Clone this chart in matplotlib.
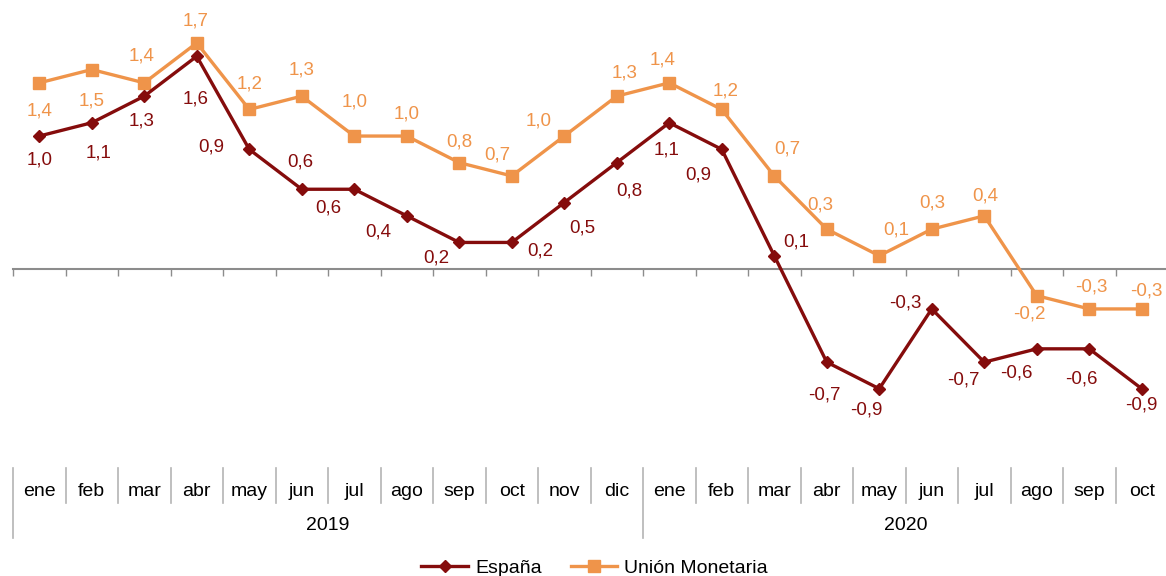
import matplotlib.pyplot as plt
from matplotlib.lines import Line2D
from matplotlib.transforms import blended_transform_factory

plt.rcParams['font.family'] = ['Liberation Sans', 'DejaVu Sans']

# Datos
meses = ['ene', 'feb', 'mar', 'abr', 'may', 'jun', 'jul', 'ago', 'sep', 'oct', 'nov', 'dic',
         'ene', 'feb', 'mar', 'abr', 'may', 'jun', 'jul', 'ago', 'sep', 'oct']
anios = ['2019', '2020']
espana = [1.0, 1.1, 1.3, 1.6, 0.9, 0.6, 0.6, 0.4, 0.2, 0.2, 0.5, 0.8,
          1.1, 0.9, 0.1, -0.7, -0.9, -0.3, -0.7, -0.6, -0.6, -0.9]
union = [1.4, 1.5, 1.4, 1.7, 1.2, 1.3, 1.0, 1.0, 0.8, 0.7, 1.0, 1.3,
         1.4, 1.2, 0.7, 0.3, 0.1, 0.3, 0.4, -0.2, -0.3, -0.3]

# desplazamientos de las etiquetas (pixeles)
off_es = [(0, -24), (7, -30), (-3, -25), (-1, -43), (-38, 2), (-1, 27), (-26, -19),
          (-29, -16), (-23, -16), (29, -9), (18, -25), (13, -28), (-3, -27), (-24, -26),
          (22, 14), (-2, -33), (-13, -21), (-26, 6), (-21, -18), (-20, -24), (-8, -30), (0, -16)]
off_um = [(0, -28), (0, -31), (-3, 27), (-1, 22), (0, 25), (0, 26), (0, 34), (0, 22),
          (0, 21), (-14, 21), (-26, 15), (8, 23), (-7, 23), (4, 18), (13, 27), (-6, 24),
          (17, 26), (0, 26), (1, 20), (-7, -18), (2, 22), (5, 18)]

c_es = '#850C0C'
c_um = '#EF944A'
gris = '#8C8C8C'

fig = plt.figure(figsize=(11.66, 5.76), dpi=100)
ax = fig.add_axes([13 / 1166, 108 / 576, 1155 / 1166, 468 / 576])
x = range(len(meses))

ax.plot(x, union, color=c_um, lw=2.4, marker='s', ms=9, label='Unión Monetaria', zorder=3)
ax.plot(x, espana, color=c_es, lw=2.4, marker='D', ms=6.5, label='España', zorder=4)

for i, v in enumerate(espana):
    ax.annotate(f'{v:.1f}'.replace('.', ','), (i, v), xytext=off_es[i], textcoords='offset pixels',
                ha='center', va='center', fontsize=13.5, color=c_es)
for i, v in enumerate(union):
    ax.annotate(f'{v:.1f}'.replace('.', ','), (i, v), xytext=off_um[i], textcoords='offset pixels',
                ha='center', va='center', fontsize=13.5, color=c_um)

ax.set_xlim(-0.5, len(meses) - 0.5)
ax.set_ylim(-1.496, 2.023)
for s in ['top', 'right', 'left']:
    ax.spines[s].set_visible(False)
ax.spines['bottom'].set_position(('data', 0))
ax.spines['bottom'].set_color(gris)
ax.spines['bottom'].set_linewidth(1.5)
ax.set_yticks([])
ax.set_xticks([k - 0.5 for k in range(len(meses) + 1)])
ax.set_xticklabels([])
ax.tick_params(axis='x', length=5, width=1, color=gris, direction='out')

# eje de categorias inferior
tr = blended_transform_factory(ax.transData, fig.transFigure)
y_top = 1 - 468 / 576
for k in range(len(meses) + 1):
    largo = k in (0, 12, len(meses))
    y_bot = 1 - (538 if largo else 503) / 576
    fig.add_artist(Line2D([k - 0.5, k - 0.5], [y_top, y_bot], transform=tr,
                          color='#B4B4B4', lw=1.2, clip_on=False))
for i, m in enumerate(meses):
    ax.text(i, 1 - 492 / 576, m, transform=tr, ha='center', va='center', fontsize=14)
ax.text(5.5, 1 - 525 / 576, anios[0], transform=tr, ha='center', va='center', fontsize=14)
ax.text(16.5, 1 - 525 / 576, anios[1], transform=tr, ha='center', va='center', fontsize=14)

h, l = ax.get_legend_handles_labels()
fig.legend(h[::-1], l[::-1], loc='center', bbox_to_anchor=(0.51, 1 - 568 / 576), ncol=2,
           frameon=False, fontsize=14, handlelength=2.4, handletextpad=0.35, columnspacing=1.5)

plt.savefig('out.png', dpi=100)
